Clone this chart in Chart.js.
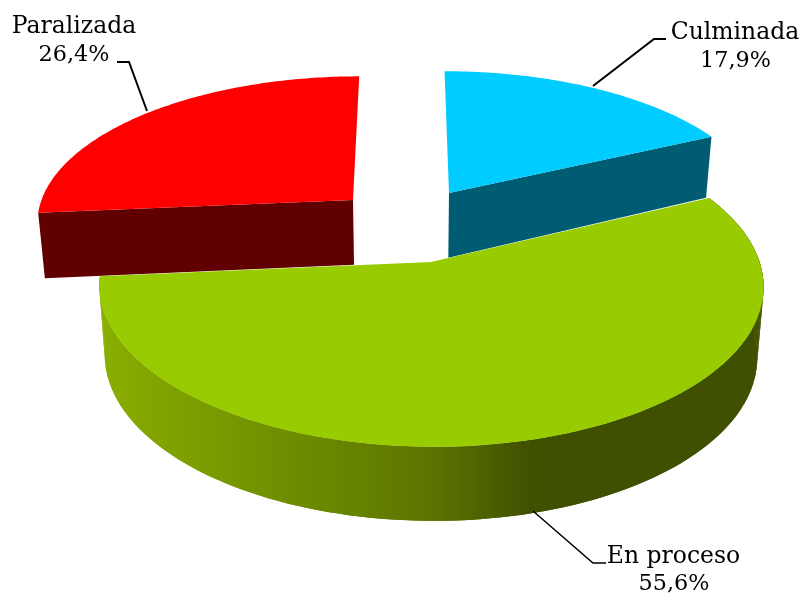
<!DOCTYPE html>
<html>
<head>
<meta charset="utf-8">
<title>Estado</title>
<script src="https://cdn.jsdelivr.net/npm/chart.js@4"></script>
<style>
  html, body { margin: 0; padding: 0; background: #fff; }
  #wrap { width: 804px; height: 593px; }
</style>
</head>
<body>
<div id="wrap"><canvas id="pieChart" width="804" height="593"></canvas></div>
<script>
const categories = ['Culminada', 'En proceso', 'Paralizada'];
const shares = [17.9, 55.6, 26.4];

const topColors = ['#00ccff', '#99cc00', '#ff0000'];
const wallColors = ['#005c73', '#3f5000', '#600000'];

// view of the 3d pie, fitted to the reference
const apex = [[449, 193], [431, 262], [353, 200]];
const squashY = [0.93, 1, 0.94];
const squashX = [0.996, 0.996, 0.994];
const depths = [66.5, 69.3, 66];
const wallTaper = [1, 0.35, 1];
const drawOrder = [0, 2, 1];
const explode = 0.22, persp = 0.142, rx = 320, ry = 153;
const baseShrink = 0.982, shrinkX = 410;

const labelAt = [[735, 39, 735.5, 67], [673.5, 563, 674, 590], [74, 33, 74, 61]];
const leaders = [
  [[593, 86], [654, 39], [666, 39]],
  [[533, 511], [593, 563], [606, 563]],
  [[147, 111], [129, 62], [117, 62]]
];
const leaderWidths = [2, 1.5, 2];

function projector(arc, i) {
  const mid = (arc.startAngle + arc.endAngle) / 2;
  const ex = explode * Math.cos(mid), ey = explode * Math.sin(mid);
  const w0 = 1 - persp * ey;
  return function (angle, r, z) {
    const x = r * Math.cos(angle), y = r * Math.sin(angle);
    const w = 1 - persp * (ey + y);
    let px = apex[i][0] + rx * squashX[i] * x / w + rx * ex * (1 / w - 1 / w0);
    const py = apex[i][1] + ry * squashY[i] * y / w + (z ? depths[i] / Math.pow(w, wallTaper[i]) : 0);
    if (z) px = shrinkX + (px - shrinkX) * baseShrink;
    return [px, py];
  };
}

function tracePoly(ctx, pts) {
  ctx.beginPath();
  pts.forEach((p, n) => n ? ctx.lineTo(p[0], p[1]) : ctx.moveTo(p[0], p[1]));
  ctx.closePath();
}

function arcPoints(project, a, b, z) {
  const pts = [];
  const steps = 120;
  for (let n = 0; n <= steps; n++) pts.push(project(a + (b - a) * n / steps, 1, z));
  return pts;
}

const pie3d = {
  id: 'pie3d',
  beforeDatasetsDraw(chart) {
    const ctx = chart.ctx;
    const arcs = chart.getDatasetMeta(0).data;
    drawOrder.forEach(i => {
      const arc = arcs[i];
      const project = projector(arc, i);
      const a = arc.startAngle, b = arc.endAngle;
      if (i === 1) {
        // outer wall of the big slice, swept so the sides run straight from top to base
        const g = ctx.createLinearGradient(100, 0, 763, 0);
        g.addColorStop(0, '#8aae00');
        g.addColorStop(0.3, '#6c8c00');
        g.addColorStop(0.5, '#5c7500');
        g.addColorStop(0.65, '#3f5000');
        g.addColorStop(1, '#3f5000');
        ctx.fillStyle = g;
        const up = arcPoints(project, a, b, false);
        const down = arcPoints(project, a, b, true);
        for (let n = 0; n < up.length - 1; n++) {
          tracePoly(ctx, [up[n], up[n + 1], down[n + 1], down[n]]);
          ctx.fill();
        }
        tracePoly(ctx, up.concat(down.slice().reverse()));
        ctx.fill();
      } else {
        // flat radial wall facing the viewer
        const edge = i === 0 ? b : a;
        tracePoly(ctx, [project(edge, 0, false), project(edge, 1, false), project(edge, 1, true), project(edge, 0, true)]);
        ctx.fillStyle = wallColors[i];
        ctx.fill();
      }
      tracePoly(ctx, [project(a, 0, false)].concat(arcPoints(project, a, b, false)));
      ctx.fillStyle = topColors[i];
      ctx.fill();
    });
    return false;
  },
  afterDraw(chart) {
    const ctx = chart.ctx;
    ctx.save();
    ctx.strokeStyle = '#000';
    leaders.forEach((line, i) => {
      ctx.lineWidth = leaderWidths[i];
      ctx.beginPath();
      line.forEach((p, n) => n ? ctx.lineTo(p[0], p[1]) : ctx.moveTo(p[0], p[1]));
      ctx.stroke();
    });
    ctx.fillStyle = '#000';
    ctx.textAlign = 'center';
    ctx.textBaseline = 'alphabetic';
    categories.forEach((name, i) => {
      ctx.font = '23.5px "DejaVu Serif"';
      ctx.fillText(name, labelAt[i][0], labelAt[i][1]);
      ctx.font = '22.3px "DejaVu Serif"';
      ctx.fillText(shares[i].toFixed(1).replace('.', ',') + '%', labelAt[i][2], labelAt[i][3]);
    });
    ctx.restore();
  }
};

new Chart(document.getElementById('pieChart').getContext('2d'), {
  type: 'pie',
  data: {
    labels: categories,
    datasets: [{ data: shares, backgroundColor: topColors, borderWidth: 0 }]
  },
  options: {
    responsive: false,
    animation: false,
    events: [],
    plugins: { legend: { display: false }, tooltip: { enabled: false } }
  },
  plugins: [pie3d]
});
</script>
</body>
</html>
